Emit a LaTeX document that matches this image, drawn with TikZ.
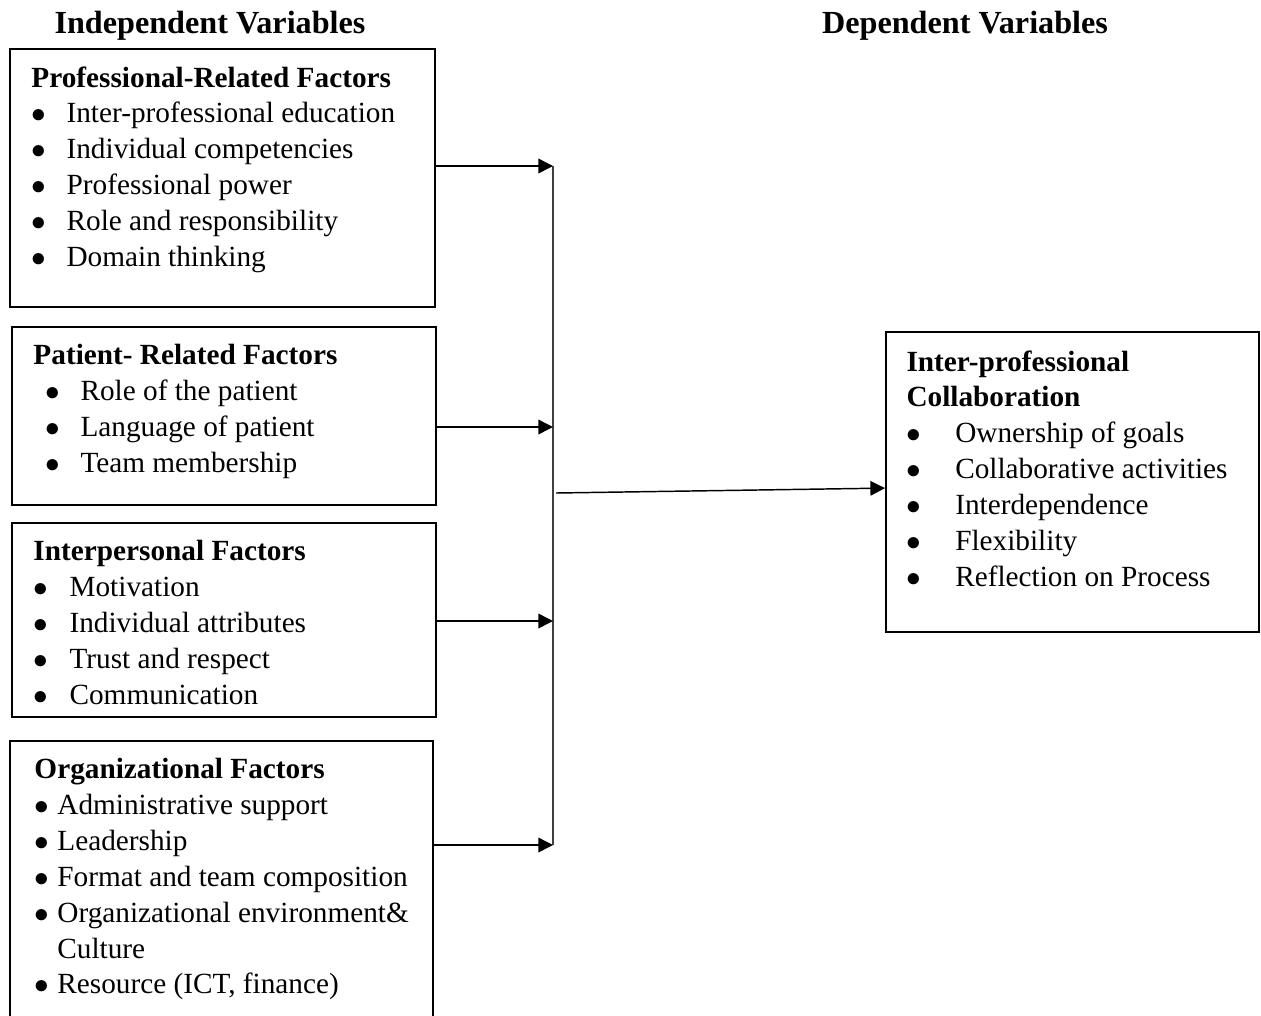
\documentclass[tikz,border=0pt]{standalone}
\usepackage{fontspec}
\setmainfont{Liberation Serif}
\usetikzlibrary{arrows.meta,fit}
\newcommand{\bul}[2]{\makebox[#1][l]{$\bullet$}#2}
\tikzset{
  flow/.style={semithick,-{Triangle[length=6pt,width=6pt]}},
  bus/.style={thick,black!75}
}
\begin{document}
\begin{tikzpicture}[x=0.41pt,y=-0.41pt]
        \useasboundingbox (0,0) rectangle (1261,1015);
        \clip (0,0) rectangle (1261,1015);
        \begin{scope}[every node/.style={anchor=base,font=\bfseries\fontsize{13.2}{16}\selectfont}]
            \node (indep) at (210,33) {Independent Variables};
            \node (dep) at (965,33) {Dependent Variables};
        \end{scope}
        \begin{scope}[every node/.style={draw,thick,inner sep=0pt}]
            \node[fit={(10,49) (435,307)}] (Prof) {};
            \node[fit={(12,327) (436,505)}] (Patient) {};
            \node[fit={(12,523) (436,717)}] (Inter) {};
            \node[fit={(10,741) (433,1040)}] (Org) {};
            \node[fit={(886,332) (1259,632)}] (IPC) {};
        \end{scope}
        \begin{scope}[every node/.style={anchor=north west,inner sep=0pt,align=left,font=\fontsize{12}{14.7}\selectfont}]
            \node (Prof-txt) at (31,66) {\textbf{Professional-Related Factors}\\
                \bul{14.4pt}{Inter-professional education}\\
                \bul{14.4pt}{Individual competencies}\\
                \bul{14.4pt}{Professional power}\\
                \bul{14.4pt}{Role and responsibility}\\
                \bul{14.4pt}{Domain thinking}};
            \node (Patient-txt) at (33,344) {\textbf{Patient- Related Factors}\\
                \hspace*{4.9pt}\bul{14.4pt}{Role of the patient}\\
                \hspace*{4.9pt}\bul{14.4pt}{Language of patient}\\
                \hspace*{4.9pt}\bul{14.4pt}{Team membership}};
            \node (Inter-txt) at (33,540) {\textbf{Interpersonal Factors}\\
                \bul{14.8pt}{Motivation}\\
                \bul{14.8pt}{Individual attributes}\\
                \bul{14.8pt}{Trust and respect}\\
                \bul{14.8pt}{Communication}};
            \node (Org-txt) at (34,758) {\textbf{Organizational Factors}\\
                \bul{9.4pt}{Administrative support}\\
                \bul{9.4pt}{Leadership}\\
                \bul{9.4pt}{Format and team composition}\\
                \bul{9.4pt}{Organizational environment\&}\\
                \hspace*{9.4pt}Culture\\
                \bul{9.4pt}{Resource (ICT, finance)}};
            \node (IPC-txt) at (906,350) {\textbf{Inter-professional}\\
                \textbf{Collaboration}\\
                \bul{20pt}{Ownership of goals}\\
                \bul{20pt}{Collaborative activities}\\
                \bul{20pt}{Interdependence}\\
                \bul{20pt}{Flexibility}\\
                \bul{20pt}{Reflection on Process}};
        \end{scope}
        \coordinate (B1) at (553,166);
        \coordinate (B2) at (553,427);
        \coordinate (B3) at (553,621);
        \coordinate (B4) at (553,845);
        \coordinate (Bout) at (556,493);
        \draw [bus] (B1) -- (B4);
        \draw [flow] (Prof.east |- B1) -- (B1);
        \draw [flow] (Patient.east |- B2) -- (B2);
        \draw [flow] (Inter.east |- B3) -- (B3);
        \draw [flow] (Org.east |- B4) -- (B4);
        \draw [flow] (Bout) -- ([yshift=-2.5pt]IPC.west);
    \end{tikzpicture}
\end{document}
